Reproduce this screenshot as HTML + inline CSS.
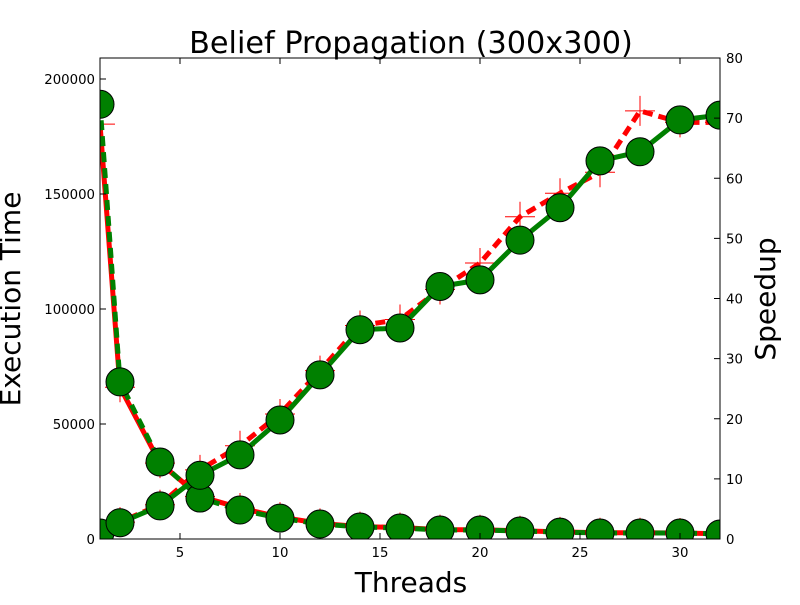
<!DOCTYPE html>
<html><head><meta charset="utf-8"><style>
body{margin:0;background:#fff}
svg text{font-family:"DejaVu Sans","Liberation Sans",sans-serif}
</style></head><body>
<svg id="chart" width="800" height="600" xmlns="http://www.w3.org/2000/svg">
<rect width="800" height="600" fill="#fff"/>
<g id="marks"></g>
<rect x="100" y="58" width="620" height="481" fill="none" stroke="#000" stroke-width="1"/>
<g id="axes"></g>
<text x="411" y="53" font-size="30.3" text-anchor="middle">Belief Propagation (300x300)</text>
<text x="411" y="592" font-size="28" text-anchor="middle">Threads</text>
<text transform="translate(20,299) rotate(-90)" font-size="28" text-anchor="middle">Execution Time</text>
<text transform="translate(775,299) rotate(-90)" font-size="28" text-anchor="middle">Speedup</text>
</svg>
<script>
const threads=[1,2,4,6,8,10,12,14,16,18,20,22,24,26,28,30,32];
const timeRed=[180400,66000,33000,18500,13500,9500,6800,5400,5000,4100,4000,3600,3100,2700,2700,2600,2300];
const timeGreen=[189000,68300,33500,17800,12600,9100,6500,5200,4800,3900,3900,3500,3000,2600,2600,2600,2200];
const speedGreen=[1,2.7,5.5,10.6,14,19.8,27.3,34.8,35.1,42,43.1,49.7,55.1,62.9,64.4,69.7,70.5];
const speedRed=[1,2.8,5.7,11.5,15.5,20.8,28,35.5,36.5,41.5,45.9,53.6,57.5,61,71.2,69.3,69.3];
const xTicks=[5,10,15,20,25,30];
const yLeftTicks=[0,50000,100000,150000,200000];
const yRightTicks=[0,10,20,30,40,50,60,70,80];
const NS="http://www.w3.org/2000/svg";
const X=v=>100+(v-1)*620/31;
const YL=v=>539-v*460/200000;
const YR=v=>539-v*481/80;
const marks=document.getElementById('marks');
const axes=document.getElementById('axes');
function mk(tag,attrs,parent){const e=document.createElementNS(NS,tag);for(const k in attrs)e.setAttribute(k,attrs[k]);parent.appendChild(e);return e;}
const clip=mk('clipPath',{id:'c'},mk('defs',{},marks));
mk('rect',{x:100,y:58,width:620,height:481},clip);
const g=mk('g',{'clip-path':'url(#c)'},marks);
function series(vals,yf,color,dash,marker,name){
  const pts=vals.map((v,i)=>X(threads[i])+','+yf(v)).join(' ');
  const l=mk('polyline',{points:pts,fill:'none',stroke:color,'stroke-width':5,'stroke-dasharray':dash||'none'},g);
  
  
  vals.forEach((v,i)=>{
    const cx=X(threads[i]),cy=yf(v);
    let m;
    if(marker==='o'){m=mk('circle',{cx:cx,cy:cy,r:14,fill:'#008000',stroke:'#000','stroke-width':1},g);}
    else{m=mk('path',{d:`M${cx-15},${cy}H${cx+15}M${cx},${cy-15}V${cy+15}`,stroke:'#f00','stroke-width':1},g);}
    
    
  });
}
series(timeRed,YL,'#f00',null,'+','time-red');
series(timeGreen,YL,'#008000','10 6','o','time-green');
series(speedRed,YR,'#f00','10 6','+','speedup-red');
series(speedGreen,YR,'#008000',null,'o','speedup-green');
xTicks.forEach(t=>{
  const x=X(t);
  mk('path',{d:`M${x},539v-6M${x},58v6`,stroke:'#000'},axes);
  const tx=mk('text',{x:x,y:557,'font-size':13.3,'text-anchor':'middle'},axes);tx.textContent=t;
  
  
});
yLeftTicks.forEach(t=>{
  const y=YL(t);
  mk('path',{d:`M100,${y}h6`,stroke:'#000'},axes);
  const tx=mk('text',{x:95,y:y+5,'font-size':13.3,'text-anchor':'end'},axes);tx.textContent=t;
  
  
});
yRightTicks.forEach(t=>{
  const y=YR(t);
  mk('path',{d:`M720,${y}h-6`,stroke:'#000'},axes);
  const tx=mk('text',{x:726,y:y+5,'font-size':13.3,'text-anchor':'start'},axes);tx.textContent=t;
  
  
});
</script>
</body></html>
